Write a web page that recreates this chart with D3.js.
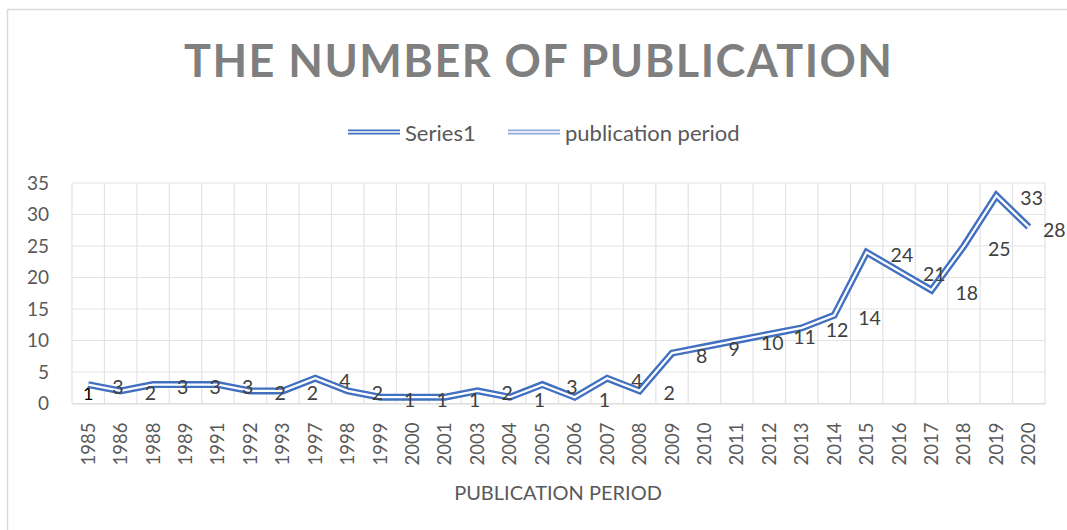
<!DOCTYPE html>
<html>
<head>
<meta charset="utf-8">
<script src="https://cdn.jsdelivr.net/npm/d3@7"></script>
<style>
  body { margin: 0; background: #fff; }
  text { font-family: Lato, "Open Sans", sans-serif; }
</style>
</head>
<body>
<div id="chart"></div>
<script>
const years = ["1985", "1986", "1988", "1989", "1991", "1992", "1993", "1997", "1998", "1999",
  "2000", "2001", "2003", "2004", "2005", "2006", "2007", "2008", "2009", "2010",
  "2011", "2012", "2013", "2014", "2015", "2016", "2017", "2018", "2019", "2020"];
const series1 = [3, 2, 3, 3, 3, 2, 2, 4, 2, 1, 1, 1, 2, 1, 3, 1, 4, 2, 8, 9,
  10, 11, 12, 14, 24, 21, 18, 25, 33, 28];
const seriesNames = ["Series1", "publication period"];
const yTicks = [0, 5, 10, 15, 20, 25, 30, 35];
// odd black "1" sitting under the line at the first point
const strayLabel = { year: "1985", value: 1.9, text: "1" };

const totalWidth = 1067, totalHeight = 530;
const margin = { left: 72, right: 22, top: 183, bottom: 126.5 };

const svg = d3.select("#chart")
  .append("svg")
  .attr("width", totalWidth)
  .attr("height", totalHeight)
  .style("background-color", "#fff");

// chart frame
svg.append("rect")
  .attr("x", 7.5).attr("y", 9.5)
  .attr("width", 1080).attr("height", 540)
  .attr("fill", "none")
  .attr("stroke", "#d9d9d9")
  .attr("stroke-width", 1.5);

const xScale = d3.scaleBand()
  .domain(years)
  .range([margin.left, totalWidth - margin.right]);

const yScale = d3.scaleLinear()
  .domain([0, 35])
  .range([totalHeight - margin.bottom, margin.top]);

const cx = d => xScale(d) + xScale.bandwidth() / 2;

// gridlines
const grid = svg.append("g").attr("stroke", "#e3e3e3").attr("stroke-width", 1.2);
grid.selectAll("line.h")
  .data(yTicks)
  .join("line")
  .attr("class", "h")
  .attr("x1", margin.left).attr("x2", totalWidth - margin.right)
  .attr("y1", d => yScale(d)).attr("y2", d => yScale(d));
grid.selectAll("line.v")
  .data(years.map(d => xScale(d)).concat([xScale.range()[1]]))
  .join("line")
  .attr("class", "v")
  .attr("x1", d => d).attr("x2", d => d)
  .attr("y1", yScale(35)).attr("y2", yScale(0));

// y axis labels
const yAxis = svg.append("g")
  .attr("transform", `translate(${margin.left - 10},0)`)
  .call(d3.axisLeft(yScale).tickValues(yTicks).tickSize(0).tickPadding(13));
yAxis.select(".domain").remove();
yAxis.selectAll("text")
  .attr("font-family", "Lato, 'Open Sans', sans-serif")
  .attr("font-size", 19)
  .attr("fill", "#595959");

// x axis labels
const xAxis = svg.append("g")
  .attr("transform", `translate(0,${yScale(0)})`)
  .call(d3.axisBottom(xScale).tickSize(0).tickPadding(0));
xAxis.select(".domain").attr("stroke", "#d9d9d9").attr("stroke-width", 1.2);
xAxis.selectAll("text")
  .attr("font-family", "Lato, 'Open Sans', sans-serif")
  .attr("font-size", 18.5)
  .attr("fill", "#595959")
  .attr("text-anchor", "end")
  .attr("transform", "translate(0,19) rotate(-90)")
  .attr("x", 0)
  .attr("y", 0)
  .attr("dy", "0.35em");

// stray label drawn beneath the line
svg.append("text")
  .attr("x", cx(strayLabel.year))
  .attr("y", yScale(strayLabel.value) + 1)
  .attr("text-anchor", "middle")
  .attr("dominant-baseline", "central")
  .attr("font-size", 18)
  .attr("fill", "#000")
  .text(strayLabel.text);

// line (double compound stroke)
const line = d3.line()
  .x((d, i) => cx(years[i]))
  .y(d => yScale(d));

svg.append("path")
  .datum(series1)
  .attr("fill", "none")
  .attr("stroke", "#4270c0")
  .attr("stroke-width", 7)
  .attr("stroke-linejoin", "miter")
  .attr("d", line);
svg.append("path")
  .datum(series1)
  .attr("fill", "none")
  .attr("stroke", "#fff")
  .attr("stroke-width", 2.2)
  .attr("stroke-linejoin", "miter")
  .attr("d", line);

// data labels, to the right of each point (kept inside the frame)
svg.append("g")
  .selectAll("text")
  .data(series1)
  .join("text")
  .attr("x", (d, i) => Math.min(cx(years[i]) + 24, totalWidth - 2 - String(d).length * 11))
  .attr("y", d => yScale(d) + 2)
  .attr("dominant-baseline", "central")
  .attr("font-size", 19.5)
  .attr("fill", "#404040")
  .text(d => d);

// title
svg.append("text")
  .attr("x", 538)
  .attr("y", 77)
  .attr("text-anchor", "middle")
  .attr("font-size", 45)
  .attr("font-weight", "bold")
  .attr("fill", "#7f7f7f")
  .attr("textLength", 708)
  .attr("lengthAdjust", "spacing")
  .text("THE NUMBER OF PUBLICATION");

// legend
const legendColors = ["#4270c0", "#8faadc"];
const legendX = [348, 508];
const legend = svg.append("g");
seriesNames.forEach((name, i) => {
  const g = legend.append("g").attr("transform", `translate(${legendX[i]},132)`);
  g.append("line").attr("x1", 0).attr("x2", 52)
    .attr("stroke", legendColors[i]).attr("stroke-width", 5);
  g.append("line").attr("x1", 0).attr("x2", 52)
    .attr("stroke", "#fff").attr("stroke-width", 1.5);
  g.append("text")
    .attr("x", 57)
    .attr("dominant-baseline", "central")
    .attr("font-size", 22)
    .attr("fill", "#595959")
    .text(name);
});

// x axis title
svg.append("text")
  .attr("x", 558)
  .attr("y", 492)
  .attr("text-anchor", "middle")
  .attr("dominant-baseline", "central")
  .attr("font-size", 20)
  .attr("fill", "#595959")
  .text("PUBLICATION PERIOD");
</script>
</body>
</html>
